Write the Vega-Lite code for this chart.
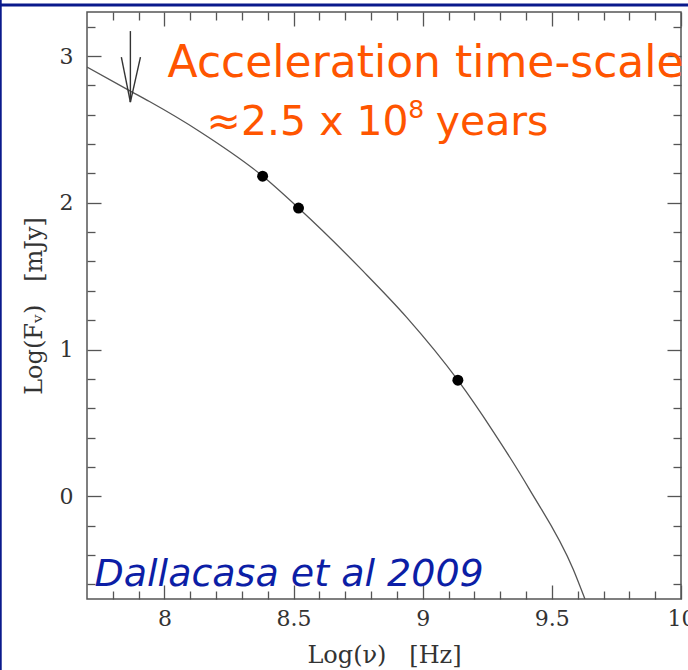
{
  "$schema": "https://vega.github.io/schema/vega-lite/v6.json",
  "width": 594,
  "height": 587,
  "autosize": {"type": "none"},
  "padding": {"left": 87, "top": 12, "right": 7, "bottom": 71},
  "background": "white",
  "datasets": {
    "frame": [
      {"x": 7.364, "y": 3.40, "x2": 7.364, "y2": -1.20, "part": "left"},
      {"x": 7.364, "y": 3.348, "x2": 10.03, "y2": 3.348, "part": "top"}
    ],
    "curve": [
      {"x": 7.70, "y": 2.925},
      {"x": 7.868, "y": 2.761},
      {"x": 7.942, "y": 2.690},
      {"x": 8.136, "y": 2.486},
      {"x": 8.38, "y": 2.182},
      {"x": 8.519, "y": 1.964},
      {"x": 8.769, "y": 1.534},
      {"x": 8.937, "y": 1.221},
      {"x": 9.136, "y": 0.791},
      {"x": 9.273, "y": 0.441},
      {"x": 9.415, "y": 0.042},
      {"x": 9.583, "y": -0.499},
      {"x": 9.628, "y": -0.70}
    ],
    "points": [
      {"x": 8.38, "y": 2.181},
      {"x": 8.519, "y": 1.964},
      {"x": 9.136, "y": 0.791}
    ],
    "arrow": [
      {"x": 7.868, "y": 3.17, "x2": 7.868, "y2": 2.686},
      {"x": 7.833, "y": 2.993, "x2": 7.868, "y2": 2.686},
      {"x": 7.907, "y": 2.993, "x2": 7.868, "y2": 2.686}
    ],
    "line1": [{"x": 8.012, "y": 2.857, "text": "Acceleration time-scale"}],
    "line2": [
      {"x": 8.163, "y": 2.461, "text": "≈2.5 x 10"},
      {"x": 9.050, "y": 2.461, "text": "years"}
    ],
    "sup": [{"x": 8.944, "y": 2.577, "text": "8"}],
    "credit": [{"x": 7.729, "y": -0.613, "text": "Dallacasa et al 2009"}]
  },
  "layer": [
    {
      "data": {"name": "frame"},
      "mark": {"type": "rule", "color": "#0A1A8C", "strokeWidth": 3, "clip": false},
      "encoding": {
        "x": {"field": "x", "type": "quantitative", "scale": {"domain": [7.7, 10], "nice": false, "zero": false}, "axis": null},
        "y": {"field": "y", "type": "quantitative", "scale": {"domain": [-0.7, 3.3], "nice": false, "zero": false}, "axis": null},
        "x2": {"field": "x2"},
        "y2": {"field": "y2"}
      }
    },
    {
      "data": {"name": "curve"},
      "mark": {"type": "line", "color": "#555555", "strokeWidth": 1.3, "interpolate": "monotone", "clip": true},
      "encoding": {
        "x": {"field": "x", "type": "quantitative", "scale": {"domain": [7.7, 10], "nice": false, "zero": false},
          "axis": {"orient": "bottom", "values": [8, 8.5, 9, 9.5, 10], "format": ".1~f", "tickSize": -14, "labelPadding": 23, "title": "Log(ν)\u00a0\u00a0\u00a0[Hz]", "titlePadding": 14, "labelFlush": false, "labelOverlap": false}},
        "y": {"field": "y", "type": "quantitative", "scale": {"domain": [-0.7, 3.3], "nice": false, "zero": false},
          "axis": {"orient": "left", "values": [0, 1, 2, 3], "format": ".1~f", "tickSize": -14, "labelPadding": 28, "title": "Log(Fᵥ)\u00a0\u00a0\u00a0[mJy]", "titlePadding": 13, "labelFlush": false, "labelOverlap": false}}
      }
    },
    {
      "data": {"name": "points"},
      "mark": {"type": "point", "filled": true, "color": "#000000", "opacity": 1, "size": 120},
      "encoding": {
        "x": {"field": "x", "type": "quantitative", "scale": {"domain": [7.7, 10], "nice": false, "zero": false},
          "axis": {"orient": "bottom", "values": [7.8, 7.9, 8.1, 8.2, 8.3, 8.4, 8.6, 8.7, 8.8, 8.9, 9.1, 9.2, 9.3, 9.4, 9.6, 9.7, 9.8, 9.9], "tickSize": -8, "labels": false, "title": null}},
        "y": {"field": "y", "type": "quantitative", "scale": {"domain": [-0.7, 3.3], "nice": false, "zero": false},
          "axis": {"orient": "left", "values": [-0.6, -0.4, -0.2, 0.2, 0.4, 0.6, 0.8, 1.2, 1.4, 1.6, 1.8, 2.2, 2.4, 2.6, 2.8, 3.2], "tickSize": -8, "labels": false, "title": null}}
      }
    },
    {
      "data": {"name": "arrow"},
      "mark": {"type": "rule", "color": "#333333", "strokeWidth": 1.4},
      "encoding": {
        "x": {"field": "x", "type": "quantitative", "scale": {"domain": [7.7, 10], "nice": false, "zero": false},
          "axis": {"orient": "top", "values": [8, 8.5, 9, 9.5, 10], "tickSize": -14, "labels": false, "title": null}},
        "y": {"field": "y", "type": "quantitative", "scale": {"domain": [-0.7, 3.3], "nice": false, "zero": false},
          "axis": {"orient": "right", "values": [0, 1, 2, 3], "tickSize": -14, "labels": false, "title": null}},
        "x2": {"field": "x2"},
        "y2": {"field": "y2"}
      }
    },
    {
      "data": {"name": "line1"},
      "mark": {"type": "text", "align": "left", "baseline": "alphabetic", "font": "DejaVu Sans", "fontSize": 44, "color": "#FF5500", "clip": false},
      "encoding": {
        "x": {"field": "x", "type": "quantitative", "scale": {"domain": [7.7, 10], "nice": false, "zero": false},
          "axis": {"orient": "top", "values": [7.8, 7.9, 8.1, 8.2, 8.3, 8.4, 8.6, 8.7, 8.8, 8.9, 9.1, 9.2, 9.3, 9.4, 9.6, 9.7, 9.8, 9.9], "tickSize": -8, "labels": false, "title": null}},
        "y": {"field": "y", "type": "quantitative", "scale": {"domain": [-0.7, 3.3], "nice": false, "zero": false},
          "axis": {"orient": "right", "values": [-0.6, -0.4, -0.2, 0.2, 0.4, 0.6, 0.8, 1.2, 1.4, 1.6, 1.8, 2.2, 2.4, 2.6, 2.8, 3.2], "tickSize": -8, "labels": false, "title": null}},
        "text": {"field": "text"}
      }
    },
    {
      "data": {"name": "line2"},
      "mark": {"type": "text", "align": "left", "baseline": "alphabetic", "font": "DejaVu Sans", "fontSize": 41, "color": "#FF5500"},
      "encoding": {
        "x": {"field": "x", "type": "quantitative", "scale": {"domain": [7.7, 10], "nice": false, "zero": false}, "axis": null},
        "y": {"field": "y", "type": "quantitative", "scale": {"domain": [-0.7, 3.3], "nice": false, "zero": false}, "axis": null},
        "text": {"field": "text"}
      }
    },
    {
      "data": {"name": "sup"},
      "mark": {"type": "text", "align": "left", "baseline": "alphabetic", "font": "DejaVu Sans", "fontSize": 25, "color": "#FF5500"},
      "encoding": {
        "x": {"field": "x", "type": "quantitative", "scale": {"domain": [7.7, 10], "nice": false, "zero": false}, "axis": null},
        "y": {"field": "y", "type": "quantitative", "scale": {"domain": [-0.7, 3.3], "nice": false, "zero": false}, "axis": null},
        "text": {"field": "text"}
      }
    },
    {
      "data": {"name": "credit"},
      "mark": {"type": "text", "align": "left", "baseline": "alphabetic", "font": "DejaVu Sans", "fontStyle": "italic", "fontSize": 38, "color": "#0C1EA6"},
      "encoding": {
        "x": {"field": "x", "type": "quantitative", "scale": {"domain": [7.7, 10], "nice": false, "zero": false}, "axis": null},
        "y": {"field": "y", "type": "quantitative", "scale": {"domain": [-0.7, 3.3], "nice": false, "zero": false}, "axis": null},
        "text": {"field": "text"}
      }
    }
  ],
  "resolve": {"axis": {"x": "independent", "y": "independent"}},
  "config": {
    "view": {"stroke": "#555555", "strokeWidth": 1.5},
    "axis": {
      "grid": false,
      "domain": false,
      "tickColor": "#555555",
      "tickWidth": 1.3,
      "labelFont": "DejaVu Serif",
      "labelFontSize": 22,
      "labelColor": "#333333",
      "titleFont": "DejaVu Serif",
      "titleFontSize": 24,
      "titleFontWeight": "normal",
      "titleColor": "#333333"
    }
  }
}
